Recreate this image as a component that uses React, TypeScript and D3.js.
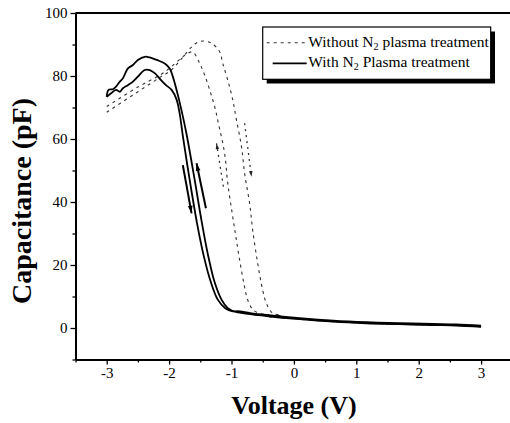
import React, { useEffect, useRef } from "react";
import * as d3 from "d3";

// C-V sweeps: [voltage (V), capacitance (pF)]
const tail: [number, number][] = [
  [-0.9, 5.0], [-0.7, 4.4], [-0.44, 3.8], [0.09, 2.8], [0.63, 2.0],
  [1.16, 1.5], [1.69, 1.2], [2.23, 0.95], [2.6, 0.8], [3, 0.4],
];

const withUpper: [number, number][] = [
  [-3, 73.4], [-2.97, 75.6], [-2.9, 75.8], [-2.85, 76.6], [-2.79, 78.2], [-2.74, 79.3],
  [-2.66, 82.4], [-2.58, 83.5], [-2.5, 85.1], [-2.39, 86.1], [-2.31, 85.9], [-2.2, 85.1],
  [-2.07, 84], [-1.99, 82.4], [-1.94, 79.8], [-1.86, 74], [-1.8, 69], [-1.72, 61.5],
  [-1.59, 47], [-1.48, 34], [-1.38, 23.5], [-1.27, 14.5], [-1.16, 9], [-1.06, 6.3], [-0.98, 5.4],
];

const withLower: [number, number][] = [
  [-3, 73.4], [-2.93, 74.5], [-2.85, 75.6], [-2.79, 75], [-2.74, 76.1], [-2.66, 77.1],
  [-2.58, 78.2], [-2.5, 79.8], [-2.39, 81.9], [-2.31, 81.9], [-2.23, 80.9], [-2.13, 78.7],
  [-2.05, 77.1], [-1.96, 75.6], [-1.88, 72.5], [-1.83, 68], [-1.78, 61], [-1.67, 47],
  [-1.55, 33], [-1.44, 22.5], [-1.33, 14.5], [-1.22, 9], [-1.1, 6.3], [-0.98, 5.3],
];

const withoutOuter: [number, number][] = [
  [-3, 68.5], [-2.5, 75], [-2.13, 79.8], [-1.96, 82], [-1.8, 85.5], [-1.65, 89],
  [-1.55, 90.6], [-1.46, 91.1], [-1.32, 90.4], [-1.19, 87.7], [-1.14, 84], [-1.06, 78.7],
  [-0.98, 72.4], [-0.92, 66], [-0.84, 57.6], [-0.79, 49.1], [-0.71, 39.6], [-0.66, 31],
  [-0.58, 20.5], [-0.5, 12], [-0.44, 7.8], [-0.34, 4.7], [-0.2, 4.0],
];

const withoutInner: [number, number][] = [
  [-3, 70.3], [-2.5, 76.5], [-2.13, 80.5], [-1.96, 83], [-1.8, 85.8], [-1.7, 87.2],
  [-1.62, 87.6], [-1.51, 84], [-1.43, 80.3], [-1.35, 75.6], [-1.27, 70.3], [-1.21, 65],
  [-1.11, 55.4], [-1.06, 45.9], [-0.98, 35.3], [-0.93, 29], [-0.87, 21.6], [-0.8, 14],
  [-0.74, 8.9], [-0.66, 5.9], [-0.55, 4.6], [-0.4, 4.1],
];

// sweep direction arrows: [from, to]
const solidArrows: [number, number][][] = [
  [[-1.78, 51.7], [-1.64, 36.4]],
  [[-1.41, 38], [-1.56, 52.3]],
];
const dashedArrows: [number, number][][] = [
  [[-1.13, 44.9], [-1.24, 58.6]],
  [[-0.79, 65], [-0.68, 48]],
];

const xMajor = [-3, -2, -1, 0, 1, 2, 3];
const xMinor = [-3.5, -2.5, -1.5, -0.5, 0.5, 1.5, 2.5, 3.5];
const yMajor = [0, 20, 40, 60, 80, 100];
const yMinor = [-10, 10, 30, 50, 70, 90];

const serif = "'Liberation Serif', 'Times New Roman', serif";

export default function App() {
  const xAxisRef = useRef<SVGGElement>(null);
  const yAxisRef = useRef<SVGGElement>(null);

  const x = d3.scaleLinear().domain([-3.5, 3.5]).range([75.5, 512.3]);
  const y = d3.scaleLinear().domain([-10, 100]).range([359.5, 13]);

  const line = d3
    .line<[number, number]>()
    .x((d) => x(d[0]))
    .y((d) => y(d[1]))
    .curve(d3.curveCatmullRom.alpha(0.5));

  useEffect(() => {
    const gx = d3.select(xAxisRef.current!);
    gx.selectAll("*").remove();
    gx.append("g").call(d3.axisBottom(x).tickValues(xMinor).tickSize(3).tickFormat(() => "").tickSizeOuter(0));
    gx.append("g").call(d3.axisBottom(x).tickValues(xMajor).tickSize(5).tickPadding(3).tickSizeOuter(0).tickFormat((d) => String(d)));
    gx.selectAll(".domain").attr("stroke-width", 2);
    gx.selectAll("line").attr("stroke-width", 1.3);
    gx.selectAll("text").attr("font-family", serif).attr("font-size", 15).attr("fill", "#000");

    const gy = d3.select(yAxisRef.current!);
    gy.selectAll("*").remove();
    gy.append("g").call(d3.axisLeft(y).tickValues(yMinor).tickSize(3).tickFormat(() => "").tickSizeOuter(0));
    gy.append("g").call(d3.axisLeft(y).tickValues(yMajor).tickSize(5).tickPadding(3).tickSizeOuter(0).tickFormat((d) => String(d)));
    gy.selectAll(".domain").attr("stroke-width", 2);
    gy.selectAll("line").attr("stroke-width", 1.3);
    gy.selectAll("text").attr("font-family", serif).attr("font-size", 15).attr("fill", "#000");
  });

  const head = (a: [number, number][], size: number) => {
    const [x0, y0] = [x(a[0][0]), y(a[0][1])];
    const [x1, y1] = [x(a[1][0]), y(a[1][1])];
    const ang = Math.atan2(y1 - y0, x1 - x0);
    const p = (r: number, t: number) => `${x1 + r * Math.cos(ang + t)},${y1 + r * Math.sin(ang + t)}`;
    return `${x1},${y1} ${p(size, Math.PI - 0.3)} ${p(size, Math.PI + 0.3)}`;
  };

  return (
    <svg width={510} height={423} style={{ position: "absolute", left: 0, top: 0 }}>
      <rect width={510} height={423} fill="#fff" />

      {/* frame */}
      <line x1={75.5} x2={512} y1={13} y2={13} stroke="#000" strokeWidth={2} />

      {/* without N2 (dashed) */}
      {[withoutOuter, withoutInner].map((s, i) => (
        <path key={`wo-${i}`} d={line([...s, ...tail.slice(2)]) ?? ""} fill="none" stroke="#333" strokeWidth={1.1} strokeDasharray="3,4" />
      ))}
      {/* with N2 (solid) */}
      {[withUpper, withLower].map((s, i) => (
        <path key={`w-${i}`} d={line([...s, ...tail.map(([v, c]) => [v, c + i * 0.35] as [number, number])]) ?? ""} fill="none" stroke="#000" strokeWidth={1.8} />
      ))}

      {solidArrows.map((a, i) => (
        <g key={`sa-${i}`}>
          <line x1={x(a[0][0])} y1={y(a[0][1])} x2={x(a[1][0])} y2={y(a[1][1])} stroke="#000" strokeWidth={2} />
          <polygon points={head(a, 8)} fill="#000" />
        </g>
      ))}
      {dashedArrows.map((a, i) => (
        <g key={`da-${i}`}>
          <line x1={x(a[0][0])} y1={y(a[0][1])} x2={x(a[1][0])} y2={y(a[1][1])} stroke="#333" strokeWidth={1.3} strokeDasharray="2,4" />
          <polygon points={head(a, 6)} fill="#222" />
        </g>
      ))}

      <g ref={xAxisRef} transform="translate(0,359.5)" />
      <g ref={yAxisRef} transform="translate(75.5,0)" />

      {/* legend */}
      <rect x={266.7} y={31.5} width={228.3} height={52} fill="#000" />
      <rect x={262.7} y={27} width={228} height={52.3} fill="#fff" stroke="#000" strokeWidth={1.2} />
      <line x1={266.7} x2={305} y1={42.7} y2={42.7} stroke="#333" strokeWidth={1.1} strokeDasharray="3,4" />
      <line x1={272.7} x2={306.7} y1={63.3} y2={63.3} stroke="#000" strokeWidth={1.7} />
      <text x={308.3} y={47} fontFamily={serif} fontSize={15.5}>
        Without N<tspan fontSize={10} dy={3}>2</tspan><tspan dy={-3}> plasma treatment</tspan>
      </text>
      <text x={308.3} y={67} fontFamily={serif} fontSize={15.5}>
        With N<tspan fontSize={10} dy={3}>2</tspan><tspan dy={-3}> Plasma treatment</tspan>
      </text>

      {/* axis titles */}
      <text x={294} y={414} textAnchor="middle" fontFamily={serif} fontWeight="bold" fontSize={26}>
        Voltage (V)
      </text>
      <text transform="translate(31,201) rotate(-90)" textAnchor="middle" fontFamily={serif} fontWeight="bold" fontSize={28}>
        Capacitance (pF)
      </text>
    </svg>
  );
}
